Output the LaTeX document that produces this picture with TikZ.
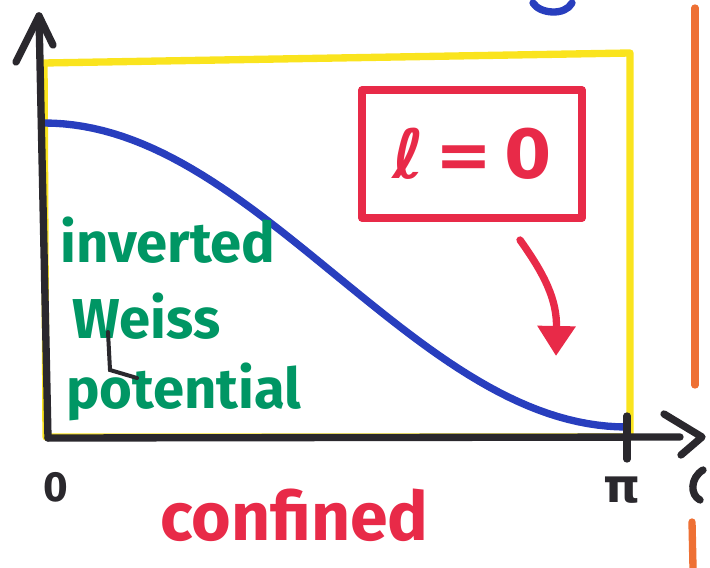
\documentclass[tikz,border=0pt]{standalone}
\usepackage{fontspec}
\setsansfont{Fira Sans}
\newfontfamily\symfont{DejaVu Sans}
\usetikzlibrary{positioning,arrows.meta}
\definecolor{ink}{RGB}{42,40,45}
\definecolor{marker}{RGB}{250,228,30}
\definecolor{curve}{RGB}{40,62,190}
\definecolor{note}{RGB}{232,42,72}
\definecolor{leaf}{RGB}{0,150,100}
\definecolor{edge}{RGB}{238,112,52}

\begin{document}
\begin{tikzpicture}[x=0.03cm,y=-0.03cm,font=\sffamily,
 pen/.style={line width=2.2mm,line cap=round,line join=round},
 txt/.style={inner sep=0pt,anchor=base west},
 weisstxt/.style={txt,text=leaf,font=\sffamily\bfseries\fontsize{48}{48}\selectfont}]
 \useasboundingbox (0,0) rectangle (710,568);
 \draw[pen,marker](44,63)--(630,53)--(630,437)--(46,437)--cycle;
 \draw[pen,edge](695,8)--(695,385);
 \draw[pen,edge](692,522)--(693,568);
 \draw[pen,curve](533,3) .. controls (540,14) and (565,16) .. (572,3);
 \draw[pen,curve] plot[domain=44:627,samples=60](\x,{275-152*cos(0.30875*(\x-44))});
 \coordinate (o) at (48,438);
 \coordinate (ytip) at (39,16);
 \coordinate (xtip) at (680,437);
 \draw[pen,ink](o)--(ytip);
 \draw[pen,ink](16,62)--(ytip)--(53,45);
 \draw[pen,ink](o)--(xtip);
 \draw[pen,ink](664,414)--(702,437)--(681,455);
 \draw[pen,ink](627,416)--(627,459);
 \draw[pen,ink](703,470) .. controls (690,478) and (690,495) .. (700,500);
 \node[text=ink,font=\sffamily\bfseries\fontsize{36}{36}\selectfont](zero) at (56,487){0};
 \node[text=ink,font=\symfont\bfseries\fontsize{40}{40}\selectfont](pi) at (622,490){π};
 \node[draw=note,pen,minimum width=220*0.03cm,minimum height=128*0.03cm](box) at (472,154){};
 \node[text=note,font=\symfont\bfseries\fontsize{58}{58}\selectfont](ell) at (box){ℓ\,=\,0};
 \coordinate (arr) at (520,240);
 \draw[pen,note,-{Triangle[length=9mm,width=11mm]}](arr) .. controls (545,275) and (557,300) .. (556,356);
 \node[weisstxt](inv) at (60,262){inverted};
 \node[weisstxt](weiss) at (72,338){Weiss};
 \node[weisstxt](pot) at (66,408){potential};
 \draw[ink,line width=1.2mm,line cap=round](108,332)--(110,370)--(137,378);
 \node[txt,text=note,font=\sffamily\bfseries\fontsize{58}{58}\selectfont](conf) at (160,540){confined};
\end{tikzpicture}
\end{document}
